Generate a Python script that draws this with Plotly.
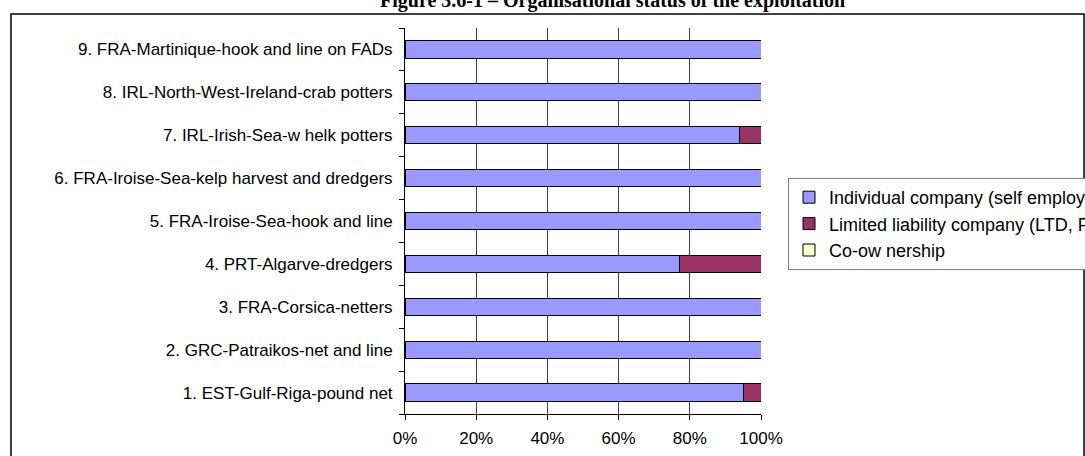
import plotly.graph_objects as go

# fleet segments, listed bottom to top
segments = [
    "1. EST-Gulf-Riga-pound net",
    "2. GRC-Patraikos-net and line",
    "3. FRA-Corsica-netters",
    "4. PRT-Algarve-dredgers",
    "5. FRA-Iroise-Sea-hook and line",
    "6. FRA-Iroise-Sea-kelp harvest and dredgers",
    "7. IRL-Irish-Sea-w helk potters",
    "8. IRL-North-West-Ireland-crab potters",
    "9. FRA-Martinique-hook and line on FADs",
]

# share of enterprises by organisational status (%)
individual = [95, 100, 100, 77, 100, 100, 94, 100, 100]
limited = [5, 0, 0, 23, 0, 0, 6, 0, 0]
co_ownership = [0, 0, 0, 0, 0, 0, 0, 0, 0]

series = [
    ("Individual company (self employed)", individual, "#9999FF"),
    ("Limited liability company (LTD, PLC)", limited, "#993366"),
    ("Co-ow nership", co_ownership, "#FFFFCC"),
]

font_main = "Liberation Sans, Arial, sans-serif"

fig = go.Figure()
for name, vals, col in series:
    fig.add_trace(go.Bar(
        y=segments, x=vals, name=name, orientation="h",
        marker=dict(color=col, line=dict(color="black", width=1)),
        legendgroup=name,
    ))

# plot area in pixels: x 405..761, y 28..414
L, R, T, B = 405, 761, 28, 414
W, H = 1085, 456
pw, ph = R - L, B - T

def px_x(x):
    return (x - L) / pw

def px_y(y):
    return (B - y) / ph

fig.update_layout(
    width=W, height=H,
    margin=dict(l=L, r=W - R, t=T, b=H - B, pad=0, autoexpand=False),
    barmode="stack",
    bargap=0.6,
    paper_bgcolor="white",
    plot_bgcolor="white",
    font=dict(family=font_main, size=17, color="black"),
    legend=dict(
        x=px_x(788), y=px_y(178), xanchor="left", yanchor="top",
        bordercolor="#808080", borderwidth=1,
        font=dict(family=font_main, size=18, color="black"),
        traceorder="grouped", tracegroupgap=0,
        itemwidth=30, itemclick=False,
    ),
    showlegend=True,
)

fig.update_xaxes(
    range=[0, 100], tickvals=[0, 20, 40, 60, 80, 100],
    ticktext=["0%", "20%", "40%", "60%", "80%", "100%"],
    showgrid=True, gridcolor="#404040", gridwidth=1,
    showline=True, linecolor="black", linewidth=1,
    ticks="outside", ticklen=5, tickcolor="black",
    zeroline=False, fixedrange=True,
    tickfont=dict(size=17), ticklabelstandoff=4,
)
fig.update_yaxes(
    showline=True, linecolor="black", linewidth=1,
    ticks="outside", ticklen=5, tickcolor="black",
    tickson="boundaries", showgrid=False,
    fixedrange=True, tickfont=dict(size=17),
    ticklabelstandoff=8,
)

# outer chart frame (runs off the right and bottom edges)
fig.add_shape(type="rect", xref="paper", yref="paper",
              x0=px_x(11), x1=px_x(1084), y0=px_y(470), y1=px_y(14),
              line=dict(color="black", width=1.5), layer="below")

# figure caption, cropped at the top of the page
fig.add_annotation(
    text="<b>Figure 3.6-1 – Organisational status of the exploitation</b>",
    xref="paper", yref="paper", x=px_x(612), y=px_y(1),
    xanchor="center", yanchor="middle", showarrow=False,
    font=dict(family="Liberation Serif, Times New Roman, serif", size=20, color="black"),
)

fig.write_html("out.html", config={"displayModeBar": False},
               post_script="document.body.style.margin='0';")
